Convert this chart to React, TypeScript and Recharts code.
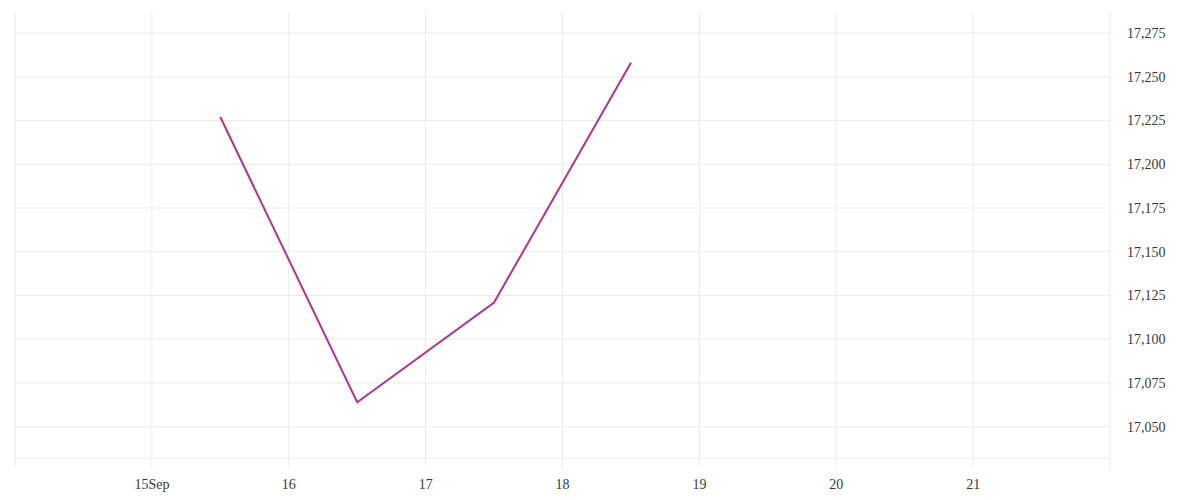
import { LineChart, Line, XAxis, YAxis, ReferenceLine } from 'recharts';

// day of September (noon of each day)
const days = [15.5, 16.5, 17.5, 18.5];
const closes = [17227, 17064, 17121, 17258];

const xTicks = [14, 15, 16, 17, 18, 19, 20, 21, 22];
const yTicks = [17050, 17075, 17100, 17125, 17150, 17175, 17200, 17225, 17250, 17275];
const baseLine = 17032;

const data = days.map((d, i) => ({ day: d, close: closes[i] }));

const fmtX = (v: number) => {
  if (v === 14 || v === 22) return '';
  if (v === 15) return '15Sep';
  return String(v);
};

const GRID = '#ebebeb';

export default function App() {
  return (
    <div style={{ position: 'absolute', left: 0, top: 0 }}>
      <LineChart
        width={1200}
        height={500}
        data={data}
        margin={{ top: 12, right: 15, left: 15, bottom: 0 }}
      >
        <XAxis
          dataKey="day"
          type="number"
          domain={[14, 22]}
          ticks={xTicks}
          tickFormatter={fmtX}
          axisLine={false}
          tickLine={false}
          height={33}
          interval={0}
          tick={{ fontSize: 14, fill: '#3a3a3a', fontFamily: 'Liberation Serif', dy: 4 }}
        />
        <YAxis
          orientation="right"
          type="number"
          domain={[17027, 17287]}
          ticks={yTicks}
          tickFormatter={(v: number) => v.toLocaleString('en-US')}
          axisLine={false}
          tickLine={false}
          width={75}
          interval={0}
          tick={{ fontSize: 14, fill: '#3a3a3a', fontFamily: 'Liberation Serif', dx: 9 }}
        />
        {xTicks.map((t) => (
          <ReferenceLine key={'x' + t} x={t} stroke={GRID} strokeWidth={1} />
        ))}
        {yTicks.map((t) => (
          <ReferenceLine key={'y' + t} y={t} stroke={GRID} strokeWidth={1} />
        ))}
        <ReferenceLine y={baseLine} stroke={GRID} strokeWidth={1} />
        <Line
          type="linear"
          dataKey="close"
          stroke="#b5338f"
          strokeWidth={2}
          dot={false}
          isAnimationActive={false}
        />
      </LineChart>
    </div>
  );
}
